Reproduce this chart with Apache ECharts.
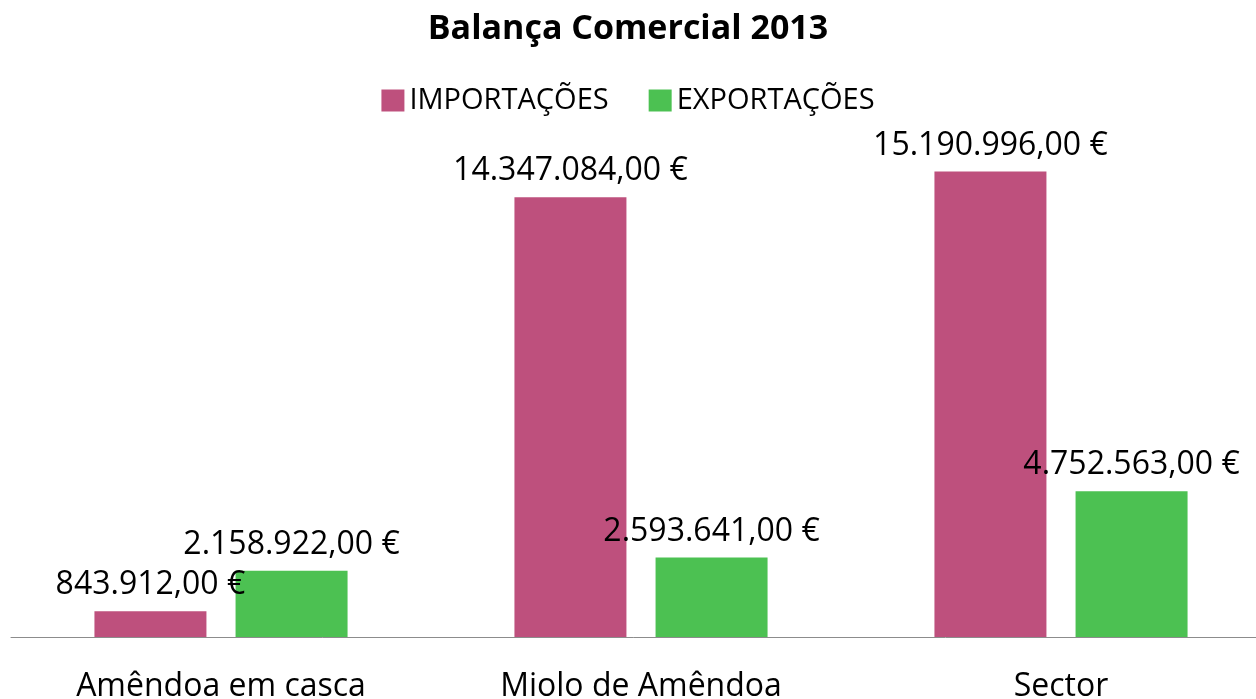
<!DOCTYPE html>
<html>
<head>
<meta charset="utf-8">
<title>Balança Comercial 2013</title>
<script src="https://cdn.jsdelivr.net/npm/echarts@6/dist/echarts.min.js"></script>
<style>
  html, body { margin: 0; padding: 0; background: #fff; }
  #chart { width: 1256px; height: 699px; }
</style>
</head>
<body>
<div id="chart"></div>
<script>
// dados
const categorias = ['Amêndoa em casca', 'Miolo de Amêndoa', 'Sector']
const importacoes = [843912, 14347084, 15190996]
const exportacoes = [2158922, 2593641, 4752563]

const fonte = '"Open Sans", "Noto Sans", sans-serif'

// 14347084 -> "14.347.084,00 €"
function euro(v) {
  const partes = v.toFixed(2).split('.')
  const inteiro = partes[0].replace(/\B(?=(\d{3})+(?!\d))/g, '.')
  return inteiro + ',' + partes[1] + ' €'
}

const rotulo = {
  show: true,
  position: 'top',
  distance: 10,
  color: '#000',
  fontFamily: fonte,
  fontSize: 32,
  formatter: p => euro(p.value)
}

const chart = echarts.init(document.getElementById('chart'))
chart.setOption({
  animation: false,
  title: {
    text: 'Balança Comercial 2013',
    left: 'center',
    top: 7,
    textStyle: { fontFamily: fonte, fontSize: 34, fontWeight: 'bold', color: '#000' }
  },
  legend: {
    top: 81,
    left: 'center',
    itemWidth: 23,
    itemHeight: 22,
    itemGap: 40,
    icon: 'rect',
    textStyle: { fontFamily: fonte, fontSize: 29, color: '#000' }
  },
  // a área do gráfico passa um pouco da margem direita, como no original
  grid: {
    left: 11, width: 1260, top: 24, bottom: 62,
    containLabel: false, outerBoundsMode: 'none'
  },
  xAxis: {
    type: 'category',
    data: categorias,
    axisLine: { lineStyle: { color: '#8c8c8c', width: 1 } },
    axisTick: { show: false },
    axisLabel: { margin: 34, color: '#000', fontFamily: fonte, fontSize: 32 }
  },
  yAxis: {
    type: 'value',
    min: 0,
    max: 20000000,
    show: false,
    splitLine: { show: false }
  },
  series: [
    {
      name: 'IMPORTAÇÕES',
      type: 'bar',
      data: importacoes,
      barWidth: 112,
      barGap: '26%',
      itemStyle: { color: '#be507d' },
      label: rotulo
    },
    {
      name: 'EXPORTAÇÕES',
      type: 'bar',
      data: exportacoes,
      barWidth: 112,
      itemStyle: { color: '#4cc152' },
      label: rotulo
    }
  ]
})
</script>
</body>
</html>
